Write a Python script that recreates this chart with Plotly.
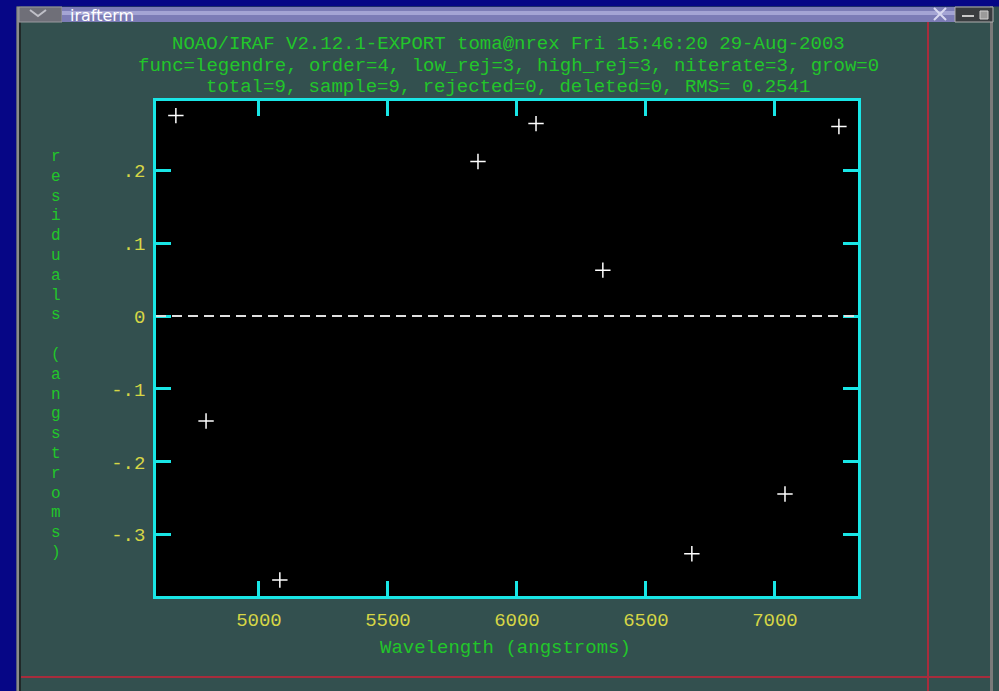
import plotly.graph_objects as go

# Fit residuals from the IRAF curve-fitting session
wavelength = [4678, 4795, 5081, 5849, 6074, 6333, 6678, 7039, 7248]
residuals = [0.275, -0.144, -0.362, 0.212, 0.264, 0.063, -0.326, -0.244, 0.260]

x_ticks = [5000, 5500, 6000, 6500, 7000]
x_tick_text = ["5000", "5500", "6000", "6500", "7000"]
y_ticks = [0.2, 0.1, 0.0, -0.1, -0.2, -0.3]
y_tick_text = [".2", ".1", "0", "-.1", "-.2", "-.3"]

title_lines = [
    "NOAO/IRAF V2.12.1-EXPORT toma@nrex Fri 15:46:20 29-Aug-2003",
    "func=legendre, order=4, low_rej=3, high_rej=3, niterate=3, grow=0",
    "total=9, sample=9, rejected=0, deleted=0, RMS= 0.2541",
]
x_title = "Wavelength (angstroms)"
y_title = "residuals (angstroms)"

W, H = 999, 691
L, R, T, B = 156, 858, 101, 596

TERM_BG = "#33504f"
DESK = "#060686"
GREEN = "#22c62a"
YELLOW = "#d6d646"
CYAN = "#19e6e6"
MONO = "Liberation Mono, DejaVu Sans Mono, monospace"


def px(x):
    return (x - L) / (R - L)


def py(y):
    return (B - y) / (B - T)


fig = go.Figure()

fig.add_trace(go.Scatter(
    x=wavelength, y=residuals, mode="markers",
    marker=dict(symbol="cross-thin", size=11, line=dict(color="white", width=1.5)),
    hoverinfo="x+y", showlegend=False,
))

shapes = []
# desktop border and window frame
shapes.append(dict(type="rect", xref="paper", yref="paper", x0=px(0), x1=px(16.5), y0=py(0), y1=py(H),
                   fillcolor=DESK, line_width=0, layer="below"))
shapes.append(dict(type="rect", xref="paper", yref="paper", x0=px(0), x1=px(W), y0=py(0), y1=py(6.5),
                   fillcolor=DESK, line_width=0, layer="below"))
shapes.append(dict(type="rect", xref="paper", yref="paper", x0=px(16.5), x1=px(19), y0=py(6.5), y1=py(H),
                   fillcolor="#8a8a8a", line_width=0, layer="below"))
shapes.append(dict(type="rect", xref="paper", yref="paper", x0=px(19), x1=px(21), y0=py(6.5), y1=py(H),
                   fillcolor="#202828", line_width=0, layer="below"))
shapes.append(dict(type="rect", xref="paper", yref="paper", x0=px(990), x1=px(993), y0=py(6.5), y1=py(H),
                   fillcolor="#7a7a7a", line_width=0, layer="below"))
# title bar
shapes.append(dict(type="rect", xref="paper", yref="paper", x0=px(19), x1=px(62), y0=py(7), y1=py(22),
                   fillcolor="#6f6f78", line=dict(color="#9a9aa0", width=1), layer="below"))
shapes.append(dict(type="rect", xref="paper", yref="paper", x0=px(62), x1=px(955), y0=py(7), y1=py(22),
                   fillcolor="#7c7cb6", line_width=0, layer="below"))
shapes.append(dict(type="rect", xref="paper", yref="paper", x0=px(62), x1=px(955), y0=py(11), y1=py(15),
                   fillcolor="#a4a4d4", line_width=0, layer="below"))
shapes.append(dict(type="rect", xref="paper", yref="paper", x0=px(955), x1=px(993), y0=py(7), y1=py(22),
                   fillcolor="#3a3d40", line=dict(color="#b0b0b0", width=1), layer="below"))
shapes.append(dict(type="rect", xref="paper", yref="paper", x0=px(980), x1=px(988), y0=py(11), y1=py(19),
                   fillcolor="#9a9a9a", line=dict(color="#d0d0d0", width=1), layer="below"))
shapes.append(dict(type="line", xref="paper", yref="paper", x0=px(962), x1=px(974), y0=py(16), y1=py(16),
                   line=dict(color="#c8c8c8", width=2), layer="below"))
shapes.append(dict(type="path", xref="paper", yref="paper",
                   path=f"M {px(30)},{py(10)} L {px(38)},{py(16)} L {px(46)},{py(10)}",
                   line=dict(color="#c0c0c8", width=2), layer="below"))
shapes.append(dict(type="path", xref="paper", yref="paper",
                   path=f"M {px(934)},{py(8)} L {px(946)},{py(20)} M {px(946)},{py(8)} L {px(934)},{py(20)}",
                   line=dict(color="#d8d8f0", width=2), layer="below"))
# red cursor cross-hair
shapes.append(dict(type="line", xref="paper", yref="paper", x0=px(928), x1=px(928), y0=py(22), y1=py(H),
                   line=dict(color="#a82c3c", width=2), layer="below"))
shapes.append(dict(type="line", xref="paper", yref="paper", x0=px(21), x1=px(990), y0=py(677), y1=py(677),
                   line=dict(color="#a82c3c", width=2), layer="below"))
# zero residual reference line
shapes.append(dict(type="line", xref="paper", yref="y", x0=0, x1=1, y0=0, y1=0,
                   line=dict(color="#e0e0e0", width=2, dash="10px,6px"), layer="above"))

annotations = []
annotations.append(dict(text="irafterm", xref="paper", yref="paper", x=px(68), y=py(15),
                        xanchor="left", yanchor="middle", showarrow=False,
                        font=dict(family="DejaVu Sans", size=16, color="white")))
for line, yy in zip(title_lines, [44, 65.5, 87]):
    annotations.append(dict(text=line, xref="paper", yref="paper", x=px(508), y=py(yy),
                            xanchor="center", yanchor="middle", showarrow=False,
                            font=dict(family=MONO, size=19, color=GREEN)))
annotations.append(dict(text=x_title, xref="paper", yref="paper", x=px(505), y=py(648),
                        xanchor="center", yanchor="middle", showarrow=False,
                        font=dict(family=MONO, size=19, color=GREEN)))
# vertical axis title, one character per row
for i, ch in enumerate(y_title):
    if ch == " ":
        continue
    annotations.append(dict(text=ch, xref="paper", yref="paper", x=px(56), y=py(157 + i * 19.8),
                            xanchor="center", yanchor="middle", showarrow=False,
                            font=dict(family=MONO, size=16, color=GREEN)))

axis_common = dict(
    showgrid=False, zeroline=False, showline=True, linecolor=CYAN, linewidth=2.5,
    mirror="ticks", ticks="inside", ticklen=15, tickwidth=2.5, tickcolor=CYAN,
    tickfont=dict(family=MONO, size=19, color=YELLOW),
)

fig.update_layout(
    width=W, height=H,
    margin=dict(l=L, r=W - R, t=T, b=H - B, pad=0),
    paper_bgcolor=TERM_BG, plot_bgcolor="black",
    xaxis=dict(range=[4601, 7322], tickvals=x_ticks, ticktext=x_tick_text, **axis_common),
    yaxis=dict(range=[-0.384, 0.295], tickvals=y_ticks, ticktext=y_tick_text, **axis_common),
    shapes=shapes, annotations=annotations, showlegend=False,
)
fig.update_xaxes(ticklabelstandoff=4)
fig.update_yaxes(ticklabelstandoff=4)

fig.write_html("out.html", config={"displayModeBar": False})
